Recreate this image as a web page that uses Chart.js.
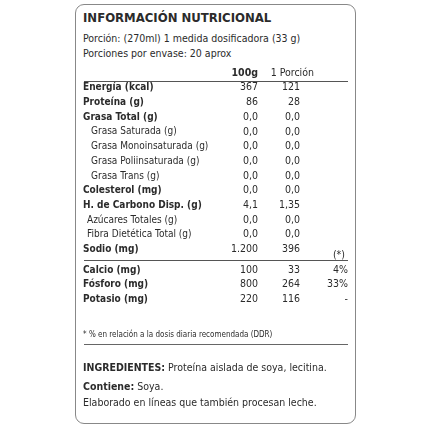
<!DOCTYPE html>
<html><head><meta charset="utf-8">
<script src="https://cdn.jsdelivr.net/npm/chart.js@4"></script>
<style>
body{margin:0;width:430px;height:430px;background:#fff;font-family:"DejaVu Sans Condensed",Roboto,sans-serif;color:#2b2b2b;position:relative;overflow:hidden}
#box{position:absolute;left:75px;top:4px;width:281px;height:420px;border:1.5px solid #888;border-radius:9px;box-sizing:border-box}
.t{position:absolute;left:83px;white-space:nowrap;font-size:10.5px}
#c{position:absolute;left:75px;top:60px}
.ln{position:absolute;left:84px;width:264px;height:1px;background:#666}
</style></head><body>
<div id="box"></div>
<div class="t" style="top:10px;font-size:13px;font-weight:bold">INFORMACIÓN NUTRICIONAL</div>
<div class="t" style="top:32px">Porción: (270ml) 1 medida dosificadora (33 g)</div>
<div class="t" style="top:47px">Porciones por envase: 20 aprox</div>
<canvas id="c" width="285" height="270" style="width:285px;height:270px"></canvas>
<div class="t" style="top:330px;font-size:8px">* % en relación a la dosis diaria recomendada (DDR)</div>
<div class="ln" style="top:344px"></div>
<div class="t" style="top:361px"><b>INGREDIENTES:</b> Proteína aislada de soya, lecitina.</div>
<div class="t" style="top:380px"><b>Contiene:</b> Soya.</div>
<div class="t" style="top:396px">Elaborado en líneas que también procesan leche.</div>
<script>
const labels=["Energía (kcal)","Proteína (g)","Grasa Total (g)","Grasa Saturada (g)","Grasa Monoinsaturada (g)","Grasa Poliinsaturada (g)","Grasa Trans (g)","Colesterol (mg)","H. de Carbono Disp. (g)","Azúcares Totales (g)","Fibra Dietética Total (g)","Sodio (mg)","Calcio (mg)","Fósforo (mg)","Potasio (mg)"];
const per100=["367","86","0,0","0,0","0,0","0,0","0,0","0,0","4,1","0,0","0,0","1.200","100","800","220"];
const perPortion=["121","28","0,0","0,0","0,0","0,0","0,0","0,0","1,35","0,0","0,0","396","33","264","116"];
const ddr=["","","","","","","","","","","","","4%","33%","-"];
const indent=[0,0,0,2,2,2,2,0,0,1,1,0,0,0,0];
const rowPos=[0,1,2,3,4,5,6,7,8,9,10,11,12.4,13.4,14.4];
const headers=["100g","1 Porción","(*)"];
const FONT='"DejaVu Sans Condensed",Roboto,sans-serif';
const plugin={id:'tbl',afterDraw(ch){
 const c=ch.ctx,y=ch.scales.y,x=ch.scales.x;c.save();c.fillStyle='#2b2b2b';c.textBaseline='middle';
 const L=x.getPixelForValue(8),C1=x.getPixelForValue(183),C2=x.getPixelForValue(225),C3=x.getPixelForValue(273);
 c.font='bold 10.5px '+FONT;c.textAlign='right';
 c.fillText(headers[0],C1,y.getPixelForValue(-1));c.font='10.5px '+FONT;c.fillText(headers[1],C2+14,y.getPixelForValue(-1));
 c.fillText(headers[2],C3-3,y.getPixelForValue(11.4));
 labels.forEach((l,i)=>{const py=y.getPixelForValue(rowPos[i]);
  c.textAlign='left';c.font=(indent[i]?'':'bold ')+'10px '+FONT;
  c.fillText(l,L+(indent[i]==2?8:indent[i]==1?4:0),py);
  c.font='10.5px '+FONT;c.textAlign='right';
  c.fillText(per100[i],C1,py);c.fillText(perPortion[i],C2,py);if(ddr[i])c.fillText(ddr[i],C3,py);});
 c.strokeStyle='#555';c.lineWidth=1;
 [-0.46,11.75].forEach(v=>{const py=Math.round(y.getPixelForValue(v))+0.5;c.beginPath();c.moveTo(x.getPixelForValue(9),py);c.lineTo(x.getPixelForValue(273),py);c.stroke();});
 c.restore();}};
new Chart(document.getElementById('c'),{type:'scatter',data:{datasets:[{data:[]}]},
 options:{responsive:false,animation:false,devicePixelRatio:1,layout:{padding:0},
 plugins:{legend:{display:false},tooltip:{enabled:false}},
 scales:{x:{type:'linear',min:0,max:285,display:false},y:{type:'linear',reverse:true,min:-1.884,max:16.48,display:false}}},
 plugins:[plugin]});
</script></body></html>
